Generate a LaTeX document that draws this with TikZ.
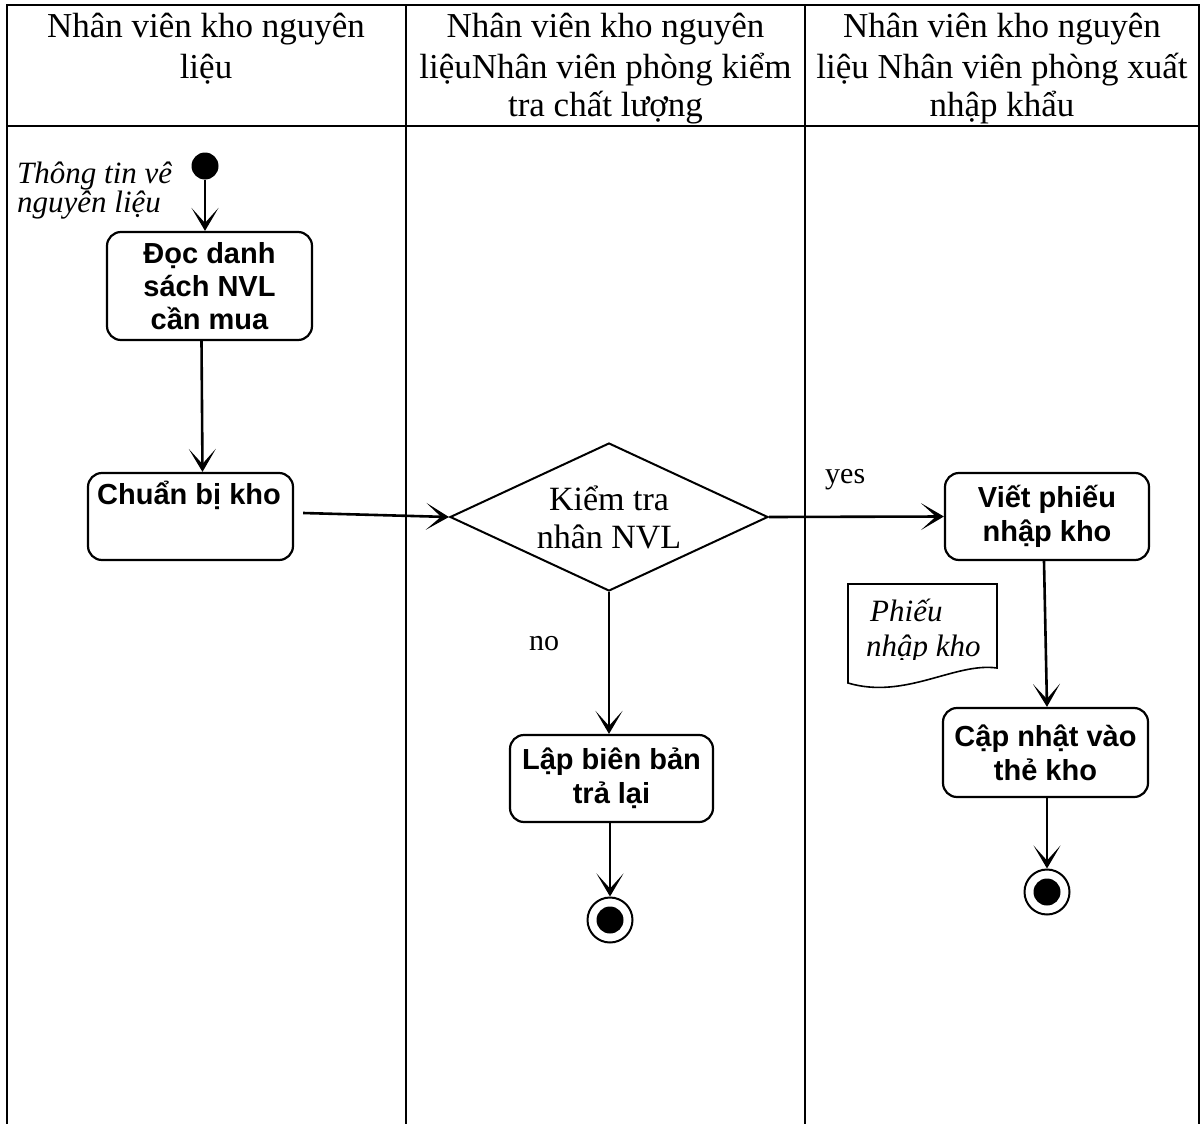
\documentclass[tikz,border=0pt]{standalone}
\usepackage{fontspec}
\setmainfont{Liberation Serif}
\newfontfamily\actfont{Liberation Sans}
\usetikzlibrary{arrows.meta,shapes.geometric}
% keep the chosen line spacing even when lines touch
\lineskiplimit=-\maxdimen
\tikzset{
  lane/.style={line width=2.2pt, line cap=rect},
  flow/.style={line width=2.6pt, -{Stealth[length=23pt,width=27pt,inset=15pt,line width=1.4pt]}},
  hdr/.style={anchor=base, inner sep=0pt, font=\fontsize{35}{39}\selectfont},
  action/.style={draw, line width=2.2pt, rounded corners=14pt, inner sep=0pt,
    align=center, font=\actfont\bfseries\fontsize{29}{34}\selectfont},
  acttext/.style={inner sep=0pt, font=\actfont\bfseries\fontsize{29}{34}\selectfont},
  decision/.style={diamond, draw, line width=2pt, aspect=2.15, inner sep=0pt,
    minimum width=318pt, minimum height=148pt, align=center,
    font=\fontsize{34}{38}\selectfont},
  note/.style={anchor=base west, inner sep=0pt, font=\itshape\fontsize{31}{33}\selectfont},
  guard/.style={anchor=base west, inner sep=0pt, font=\fontsize{30}{33}\selectfont},
  initial/.style={circle, fill, minimum size=27pt, inner sep=0pt},
  final/.style={circle, draw, line width=2pt, minimum size=45pt, inner sep=0pt,
    path picture={\fill (path picture bounding box.center) circle (13.5pt);}},
  doc/.style={draw, line width=1.6pt}
}
\begin{document}
\begin{tikzpicture}[x=1pt, y=-1pt]
\useasboundingbox (0,0) rectangle (1203,1124);
\fill[white] (0,0) rectangle (1203,1124);

% swimlane grid
\draw[lane] (7,5) -- (1199,5);
\draw[lane] (7,126) -- (1199,126);
\draw[lane] (7,5) -- (7,1124);
\draw[lane] (406,5) -- (406,1124);
\draw[lane] (805,5) -- (805,1124);
\draw[lane] (1199,5) -- (1199,1124);

% lane titles
\node[hdr] (h1a) at (206,38) {Nhân viên kho nguyên};
\node[hdr] (h1b) at (206,78) {liệu};
\node[hdr] (h2a) at (605.5,38) {Nhân viên kho nguyên};
\node[hdr] (h2b) at (605.5,78) {liệuNhân viên phòng kiểm};
\node[hdr] (h2c) at (605.5,117) {tra chất lượng};
\node[hdr] (h3a) at (1002,38) {Nhân viên kho nguyên};
\node[hdr] (h3b) at (1002,78) {liệu Nhân viên phòng xuất};
\node[hdr] (h3c) at (1002,117) {nhập khẩu};

% input information
\node[note] (infoa) at (17,183) {Thông tin vê};
\node[note] (infob) at (17,212) {nguyên liệu};

% activities
\node[initial] (start) at (205,166) {};
\node[action, minimum width=205pt, minimum height=108pt,
      font=\actfont\bfseries\fontsize{29}{33}\selectfont]
      (read) at (209.5,286) {Đọc danh\\sách NVL\\cần mua};
\node[action, minimum width=205pt, minimum height=87pt] (prep) at (190.5,516.5) {};
\node[acttext, anchor=base] (preplabel) at (189,504) {Chuẩn bị kho};
\node[decision] (check) at (609,517) {Kiểm tra\\nhân NVL};
\node[action, minimum width=204pt, minimum height=87pt] (write) at (1047,516.5) {Viết phiếu\\nhập kho};
\node[action, minimum width=203pt, minimum height=87pt] (reject) at (611.5,778.5) {Lập biên bản\\trả lại};
\node[action, minimum width=205pt, minimum height=89pt] (update) at (1045.5,752.5) {Cập nhật vào\\thẻ kho};
\node[final] (end1) at (610,920) {};
\node[final] (end2) at (1047,892) {};

% receipt document
\draw[doc] (848,584) -- (997,584) -- (997,668)
  .. controls (955,662) and (905,700) .. (848,683) -- cycle;
\begin{scope}
  \clip (848,584) rectangle (997,659);
  \node[note] (slipa) at (870,621) {Phiếu};
  \node[note] (slipb) at (866,656) {nhập kho};
\end{scope}

% guards
\node[guard] (yes) at (825,483) {yes};
\node[guard] (no) at (529,650) {no};

% control flow
\draw[flow] (start) -- (start |- read.north);
\draw[flow] ([xshift=-8pt]read.south) -- ([xshift=12pt]prep.north);
\draw[flow] ([xshift=9pt,yshift=3.5pt]prep.east) -- (check.west);
\draw[flow] (check.east) -- (write.west);
\draw[flow] (check.south) -- (check.south |- reject.north);
\draw[flow] (reject.south -| end1) -- (end1.north);
\draw[flow] ([xshift=-3pt]write.south) -- ([xshift=1.5pt]update.north);
\draw[flow] (update.south -| end2) -- (end2.north);
\end{tikzpicture}
\end{document}
